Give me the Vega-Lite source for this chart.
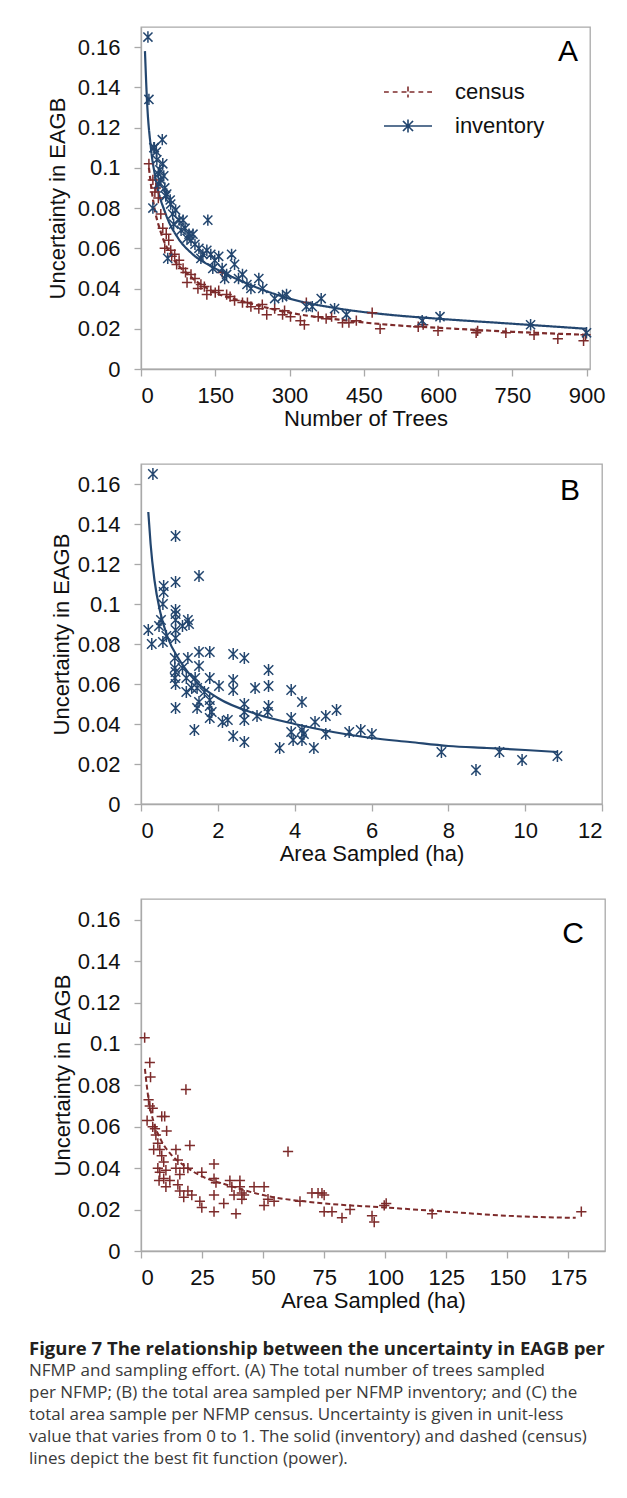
{
  "$schema": "https://vega.github.io/schema/vega-lite/v6.json",
  "background": "white",
  "padding": {"left": 29, "top": 26, "right": 10, "bottom": 10},
  "spacing": 33,
  "config": {
    "font": "Liberation Sans",
    "view": {"stroke": "#a9a9a9", "strokeWidth": 1.3},
    "axis": {"grid": false, "domainColor": "#a9a9a9", "domainWidth": 1.3, "tickColor": "#a9a9a9", "tickWidth": 1.3, "tickSize": 7, "labelFont": "Liberation Sans", "labelFontSize": 22, "labelColor": "#111111", "titleFont": "Liberation Sans", "titleFontSize": 22, "titleFontWeight": "normal", "titleColor": "#111111"},
    "axisX": {"labelPadding": 9, "titlePadding": 2},
    "axisY": {"labelPadding": 14, "titlePadding": 8},
    "legend": {"padding": 0}
  },
  "title": {
    "text": "Figure 7 The relationship between the uncertainty in EAGB per",
    "subtitle": ["NFMP and sampling effort. (A) The total number of trees sampled", "per NFMP; (B) the total area sampled per NFMP inventory; and (C) the", "total area sample per NFMP census. Uncertainty is given in unit-less", "value that varies from 0 to 1. The solid (inventory) and dashed (census)", "lines depict the best fit function (power)."],
    "orient": "bottom", "anchor": "start", "frame": "group", "offset": 28, "dx": -112,
    "font": "Open Sans", "fontSize": 18.5, "fontWeight": "bold", "color": "#231f20",
    "subtitleFont": "Open Sans", "subtitleFontSize": 17, "subtitleFontWeight": "normal", "subtitleColor": "#3a3a3a", "subtitleLineHeight": 22, "subtitlePadding": 4.5
  },
  "datasets": {
    "A_pts": [
      {"s": "census", "x": 16, "y": 0.102}, {"s": "census", "x": 24, "y": 0.094}, {"s": "census", "x": 30, "y": 0.090}, {"s": "census", "x": 35, "y": 0.085}, {"s": "census", "x": 40, "y": 0.077}, {"s": "census", "x": 44, "y": 0.070}, {"s": "census", "x": 51, "y": 0.067}, {"s": "census", "x": 56, "y": 0.064}, {"s": "census", "x": 60, "y": 0.059}, {"s": "census", "x": 68, "y": 0.057}, {"s": "census", "x": 77, "y": 0.054}, {"s": "census", "x": 85, "y": 0.050}, {"s": "census", "x": 93, "y": 0.043}, {"s": "census", "x": 101, "y": 0.047}, {"s": "census", "x": 109, "y": 0.045}, {"s": "census", "x": 121, "y": 0.042}, {"s": "census", "x": 133, "y": 0.037}, {"s": "census", "x": 141, "y": 0.039}, {"s": "census", "x": 157, "y": 0.039}, {"s": "census", "x": 164, "y": 0.048}, {"s": "census", "x": 173, "y": 0.037}, {"s": "census", "x": 189, "y": 0.034}, {"s": "census", "x": 205, "y": 0.033}, {"s": "census", "x": 222, "y": 0.031}, {"s": "census", "x": 238, "y": 0.030}, {"s": "census", "x": 254, "y": 0.027}, {"s": "census", "x": 270, "y": 0.030}, {"s": "census", "x": 286, "y": 0.027}, {"s": "census", "x": 302, "y": 0.026}, {"s": "census", "x": 322, "y": 0.024}, {"s": "census", "x": 330, "y": 0.022}, {"s": "census", "x": 334, "y": 0.033}, {"s": "census", "x": 358, "y": 0.026}, {"s": "census", "x": 374, "y": 0.025}, {"s": "census", "x": 385, "y": 0.026}, {"s": "census", "x": 407, "y": 0.023}, {"s": "census", "x": 420, "y": 0.023}, {"s": "census", "x": 435, "y": 0.024}, {"s": "census", "x": 467, "y": 0.028}, {"s": "census", "x": 483, "y": 0.020}, {"s": "census", "x": 560, "y": 0.021}, {"s": "census", "x": 570, "y": 0.022}, {"s": "census", "x": 600, "y": 0.019}, {"s": "census", "x": 677, "y": 0.018}, {"s": "census", "x": 680, "y": 0.019}, {"s": "census", "x": 737, "y": 0.018}, {"s": "census", "x": 794, "y": 0.017}, {"s": "census", "x": 842, "y": 0.015}, {"s": "census", "x": 894, "y": 0.014}, {"s": "census", "x": 898, "y": 0.017},
      {"s": "census", "x": 28, "y": 0.088}, {"s": "census", "x": 48, "y": 0.060}, {"s": "census", "x": 62, "y": 0.056}, {"s": "census", "x": 72, "y": 0.052}, {"s": "census", "x": 90, "y": 0.048}, {"s": "census", "x": 115, "y": 0.040}, {"s": "census", "x": 128, "y": 0.041}, {"s": "census", "x": 150, "y": 0.038}, {"s": "census", "x": 180, "y": 0.036}, {"s": "census", "x": 215, "y": 0.033}, {"s": "census", "x": 245, "y": 0.032}, {"s": "census", "x": 290, "y": 0.029},
      {"s": "inventory", "x": 14, "y": 0.165}, {"s": "inventory", "x": 16, "y": 0.134}, {"s": "inventory", "x": 27, "y": 0.110}, {"s": "inventory", "x": 31, "y": 0.108}, {"s": "inventory", "x": 43, "y": 0.114}, {"s": "inventory", "x": 44, "y": 0.102}, {"s": "inventory", "x": 24, "y": 0.080}, {"s": "inventory", "x": 35, "y": 0.097}, {"s": "inventory", "x": 40, "y": 0.094}, {"s": "inventory", "x": 48, "y": 0.090}, {"s": "inventory", "x": 52, "y": 0.087}, {"s": "inventory", "x": 60, "y": 0.082}, {"s": "inventory", "x": 54, "y": 0.055}, {"s": "inventory", "x": 64, "y": 0.077}, {"s": "inventory", "x": 77, "y": 0.074}, {"s": "inventory", "x": 85, "y": 0.074}, {"s": "inventory", "x": 89, "y": 0.070}, {"s": "inventory", "x": 97, "y": 0.067}, {"s": "inventory", "x": 101, "y": 0.064}, {"s": "inventory", "x": 109, "y": 0.062}, {"s": "inventory", "x": 117, "y": 0.060}, {"s": "inventory", "x": 125, "y": 0.057}, {"s": "inventory", "x": 135, "y": 0.074}, {"s": "inventory", "x": 133, "y": 0.059}, {"s": "inventory", "x": 141, "y": 0.057}, {"s": "inventory", "x": 149, "y": 0.054}, {"s": "inventory", "x": 157, "y": 0.056}, {"s": "inventory", "x": 164, "y": 0.050}, {"s": "inventory", "x": 173, "y": 0.047}, {"s": "inventory", "x": 183, "y": 0.057}, {"s": "inventory", "x": 189, "y": 0.052}, {"s": "inventory", "x": 205, "y": 0.047}, {"s": "inventory", "x": 214, "y": 0.042}, {"s": "inventory", "x": 238, "y": 0.045}, {"s": "inventory", "x": 246, "y": 0.040}, {"s": "inventory", "x": 286, "y": 0.036}, {"s": "inventory", "x": 294, "y": 0.037}, {"s": "inventory", "x": 334, "y": 0.031}, {"s": "inventory", "x": 346, "y": 0.031}, {"s": "inventory", "x": 364, "y": 0.035}, {"s": "inventory", "x": 391, "y": 0.030}, {"s": "inventory", "x": 415, "y": 0.027}, {"s": "inventory", "x": 568, "y": 0.024}, {"s": "inventory", "x": 604, "y": 0.026}, {"s": "inventory", "x": 787, "y": 0.022}, {"s": "inventory", "x": 900, "y": 0.018},
      {"s": "inventory", "x": 32, "y": 0.104}, {"s": "inventory", "x": 38, "y": 0.099}, {"s": "inventory", "x": 46, "y": 0.096}, {"s": "inventory", "x": 59, "y": 0.084}, {"s": "inventory", "x": 70, "y": 0.079}, {"s": "inventory", "x": 81, "y": 0.069}, {"s": "inventory", "x": 93, "y": 0.065}, {"s": "inventory", "x": 105, "y": 0.067}, {"s": "inventory", "x": 121, "y": 0.055}, {"s": "inventory", "x": 145, "y": 0.050}, {"s": "inventory", "x": 169, "y": 0.045}, {"s": "inventory", "x": 197, "y": 0.045}, {"s": "inventory", "x": 222, "y": 0.040}, {"s": "inventory", "x": 270, "y": 0.035}, {"s": "inventory", "x": 26, "y": 0.110}, {"s": "inventory", "x": 36, "y": 0.092}, {"s": "inventory", "x": 50, "y": 0.086}, {"s": "inventory", "x": 66, "y": 0.072}
    ],
    "A_fit": [
      {"s": "inventory", "x": 8, "y": 0.158}, {"s": "inventory", "x": 12, "y": 0.134}, {"s": "inventory", "x": 20, "y": 0.110}, {"s": "inventory", "x": 30, "y": 0.094}, {"s": "inventory", "x": 50, "y": 0.077}, {"s": "inventory", "x": 75, "y": 0.065}, {"s": "inventory", "x": 100, "y": 0.058}, {"s": "inventory", "x": 150, "y": 0.050}, {"s": "inventory", "x": 200, "y": 0.044}, {"s": "inventory", "x": 300, "y": 0.035}, {"s": "inventory", "x": 400, "y": 0.030}, {"s": "inventory", "x": 500, "y": 0.027}, {"s": "inventory", "x": 600, "y": 0.025}, {"s": "inventory", "x": 750, "y": 0.0225}, {"s": "inventory", "x": 900, "y": 0.020},
      {"s": "census", "x": 16, "y": 0.100}, {"s": "census", "x": 25, "y": 0.083}, {"s": "census", "x": 40, "y": 0.068}, {"s": "census", "x": 60, "y": 0.057}, {"s": "census", "x": 100, "y": 0.046}, {"s": "census", "x": 150, "y": 0.038}, {"s": "census", "x": 200, "y": 0.034}, {"s": "census", "x": 300, "y": 0.028}, {"s": "census", "x": 400, "y": 0.0245}, {"s": "census", "x": 500, "y": 0.022}, {"s": "census", "x": 600, "y": 0.0205}, {"s": "census", "x": 750, "y": 0.0185}, {"s": "census", "x": 900, "y": 0.017}
    ],
    "B_pts": [
      {"x": 0.31, "y": 0.165}, {"x": 0.19, "y": 0.087}, {"x": 0.28, "y": 0.080}, {"x": 0.59, "y": 0.109}, {"x": 0.59, "y": 0.106}, {"x": 0.57, "y": 0.100}, {"x": 0.52, "y": 0.092}, {"x": 0.47, "y": 0.089}, {"x": 0.57, "y": 0.081}, {"x": 0.66, "y": 0.084}, {"x": 0.90, "y": 0.134}, {"x": 0.90, "y": 0.111}, {"x": 0.90, "y": 0.097}, {"x": 0.90, "y": 0.095}, {"x": 0.90, "y": 0.092}, {"x": 0.90, "y": 0.087}, {"x": 0.90, "y": 0.083}, {"x": 0.88, "y": 0.073}, {"x": 0.88, "y": 0.068}, {"x": 0.90, "y": 0.066}, {"x": 0.88, "y": 0.063}, {"x": 0.90, "y": 0.060}, {"x": 0.90, "y": 0.048}, {"x": 1.08, "y": 0.089}, {"x": 1.22, "y": 0.092}, {"x": 1.25, "y": 0.090}, {"x": 1.22, "y": 0.073}, {"x": 1.08, "y": 0.068}, {"x": 1.18, "y": 0.063}, {"x": 1.18, "y": 0.056}, {"x": 1.32, "y": 0.058}, {"x": 1.51, "y": 0.114}, {"x": 1.51, "y": 0.076}, {"x": 1.51, "y": 0.069}, {"x": 1.41, "y": 0.063}, {"x": 1.46, "y": 0.058}, {"x": 1.51, "y": 0.051}, {"x": 1.46, "y": 0.048}, {"x": 1.39, "y": 0.037}, {"x": 1.65, "y": 0.056}, {"x": 1.79, "y": 0.076}, {"x": 1.79, "y": 0.063}, {"x": 1.79, "y": 0.052}, {"x": 1.79, "y": 0.049}, {"x": 1.84, "y": 0.046}, {"x": 1.79, "y": 0.043}, {"x": 2.03, "y": 0.059}, {"x": 2.12, "y": 0.041}, {"x": 2.26, "y": 0.042}, {"x": 2.40, "y": 0.075}, {"x": 2.40, "y": 0.062}, {"x": 2.40, "y": 0.057}, {"x": 2.40, "y": 0.034}, {"x": 2.69, "y": 0.073}, {"x": 2.69, "y": 0.050}, {"x": 2.69, "y": 0.046}, {"x": 2.69, "y": 0.042}, {"x": 2.69, "y": 0.031}, {"x": 2.97, "y": 0.058}, {"x": 3.02, "y": 0.044}, {"x": 3.32, "y": 0.067}, {"x": 3.32, "y": 0.059}, {"x": 3.32, "y": 0.049}, {"x": 3.30, "y": 0.046}, {"x": 3.61, "y": 0.028}, {"x": 3.91, "y": 0.057}, {"x": 3.91, "y": 0.043}, {"x": 3.91, "y": 0.036}, {"x": 3.96, "y": 0.032}, {"x": 4.19, "y": 0.051}, {"x": 4.19, "y": 0.037}, {"x": 4.24, "y": 0.035}, {"x": 4.19, "y": 0.032}, {"x": 4.50, "y": 0.028}, {"x": 4.53, "y": 0.041}, {"x": 4.81, "y": 0.044}, {"x": 4.81, "y": 0.035}, {"x": 5.09, "y": 0.047}, {"x": 5.42, "y": 0.036}, {"x": 5.72, "y": 0.037}, {"x": 6.01, "y": 0.035}, {"x": 7.82, "y": 0.026}, {"x": 8.72, "y": 0.017}, {"x": 9.33, "y": 0.026}, {"x": 9.92, "y": 0.022}, {"x": 10.84, "y": 0.024}
    ],
    "B_fit": [
      {"x": 0.19, "y": 0.146}, {"x": 0.25, "y": 0.130}, {"x": 0.35, "y": 0.112}, {"x": 0.5, "y": 0.096}, {"x": 0.7, "y": 0.083}, {"x": 1, "y": 0.072}, {"x": 1.5, "y": 0.060}, {"x": 2, "y": 0.053}, {"x": 3, "y": 0.045}, {"x": 4, "y": 0.040}, {"x": 5, "y": 0.036}, {"x": 6, "y": 0.033}, {"x": 7, "y": 0.031}, {"x": 8, "y": 0.029}, {"x": 9, "y": 0.028}, {"x": 10, "y": 0.027}, {"x": 10.84, "y": 0.026}
    ],
    "C_pts": [
      {"x": 1.5, "y": 0.103}, {"x": 3.6, "y": 0.091}, {"x": 3.9, "y": 0.084}, {"x": 3.1, "y": 0.073}, {"x": 3.6, "y": 0.070}, {"x": 4.8, "y": 0.069}, {"x": 2.5, "y": 0.063}, {"x": 9.7, "y": 0.065}, {"x": 8.5, "y": 0.065}, {"x": 4.8, "y": 0.060}, {"x": 5.7, "y": 0.059}, {"x": 10.5, "y": 0.058}, {"x": 6.1, "y": 0.056}, {"x": 6.9, "y": 0.052}, {"x": 5.2, "y": 0.049}, {"x": 7.7, "y": 0.049}, {"x": 18.4, "y": 0.078}, {"x": 20.0, "y": 0.051}, {"x": 60.2, "y": 0.048}, {"x": 8.5, "y": 0.046}, {"x": 9.3, "y": 0.043}, {"x": 14.3, "y": 0.049}, {"x": 15.1, "y": 0.044}, {"x": 6.9, "y": 0.040}, {"x": 7.7, "y": 0.038}, {"x": 7.4, "y": 0.034}, {"x": 10.2, "y": 0.031}, {"x": 14.3, "y": 0.040}, {"x": 15.9, "y": 0.037}, {"x": 17.5, "y": 0.040}, {"x": 19.2, "y": 0.040}, {"x": 15.1, "y": 0.032}, {"x": 15.9, "y": 0.029}, {"x": 17.5, "y": 0.026}, {"x": 19.2, "y": 0.029}, {"x": 20.8, "y": 0.027}, {"x": 24.9, "y": 0.038}, {"x": 24.1, "y": 0.024}, {"x": 24.9, "y": 0.021}, {"x": 29.9, "y": 0.042}, {"x": 29.9, "y": 0.035}, {"x": 30.7, "y": 0.033}, {"x": 29.9, "y": 0.027}, {"x": 29.9, "y": 0.019}, {"x": 33.9, "y": 0.023}, {"x": 36.4, "y": 0.034}, {"x": 37.2, "y": 0.031}, {"x": 38.1, "y": 0.027}, {"x": 38.9, "y": 0.018}, {"x": 40.5, "y": 0.034}, {"x": 40.5, "y": 0.031}, {"x": 41.3, "y": 0.028}, {"x": 41.3, "y": 0.025}, {"x": 42.2, "y": 0.027}, {"x": 46.3, "y": 0.031}, {"x": 50.4, "y": 0.031}, {"x": 50.4, "y": 0.022}, {"x": 52.0, "y": 0.025}, {"x": 54.5, "y": 0.024}, {"x": 65.1, "y": 0.024}, {"x": 70.0, "y": 0.028}, {"x": 72.5, "y": 0.028}, {"x": 74.1, "y": 0.028}, {"x": 75.0, "y": 0.027}, {"x": 75.0, "y": 0.019}, {"x": 78.2, "y": 0.019}, {"x": 82.3, "y": 0.016}, {"x": 85.6, "y": 0.020}, {"x": 94.6, "y": 0.017}, {"x": 95.5, "y": 0.014}, {"x": 99.6, "y": 0.022}, {"x": 100.4, "y": 0.023}, {"x": 119.2, "y": 0.018}, {"x": 180.3, "y": 0.019}, {"x": 9.3, "y": 0.035}, {"x": 11.8, "y": 0.034}, {"x": 10.2, "y": 0.039}
    ],
    "C_fit": [
      {"x": 1.6, "y": 0.088}, {"x": 3, "y": 0.074}, {"x": 5, "y": 0.063}, {"x": 8, "y": 0.054}, {"x": 12, "y": 0.047}, {"x": 18, "y": 0.041}, {"x": 25, "y": 0.036}, {"x": 35, "y": 0.032}, {"x": 50, "y": 0.027}, {"x": 75, "y": 0.023}, {"x": 100, "y": 0.021}, {"x": 125, "y": 0.019}, {"x": 150, "y": 0.017}, {"x": 178, "y": 0.016}
    ]
  },
  "resolve": {"scale": {"color": "independent", "strokeDash": "independent"}, "legend": {"color": "independent", "strokeDash": "independent"}},
  "vconcat": [
    {
      "width": 449, "height": 342,
      "layer": [
        {
          "data": {"name": "A_fit"},
          "mark": {"type": "line", "strokeWidth": 2.2, "interpolate": "monotone"},
          "encoding": {
            "x": {"field": "x", "type": "quantitative", "scale": {"domain": [0, 907], "nice": false, "zero": true}, "axis": {"values": [0, 150, 300, 450, 600, 750, 900], "title": "Number of Trees"}},
            "y": {"field": "y", "type": "quantitative", "scale": {"domain": [0, 0.17], "nice": false}, "axis": {"values": [0, 0.02, 0.04, 0.06, 0.08, 0.1, 0.12, 0.14, 0.16], "format": ".2~f", "title": "Uncertainty in EAGB", "titlePadding": 8}},
            "color": {"field": "s", "type": "nominal", "scale": {"domain": ["census", "inventory"], "range": ["#7d2b2b", "#23466f"]},
              "legend": {"orient": "none", "legendX": 254, "legendY": 52, "title": null, "symbolSize": 576, "symbolStrokeWidth": 1.6, "labelFont": "Liberation Sans", "labelFontSize": 22, "labelColor": "#111111", "labelOffset": 34, "rowPadding": 10,
                "encode": {"symbols": {"update": {"shape": {"signal": "datum.value === 'census' ? 'M-2,0H-1.6M-1.27,0H-0.87M-0.54,0H0.54M0.87,0H1.27M1.6,0H2M0,-0.45V0.45' : 'M-2,0H2M-0.42,-0.42L0.42,0.42M-0.42,0.42L0.42,-0.42M0,-0.55V0.55'"}, "fill": {"value": "transparent"}, "strokeDash": {"value": [1, 0]}}}}}},
            "strokeDash": {"field": "s", "type": "nominal", "scale": {"domain": ["census", "inventory"], "range": [[5, 3], [1, 0]]}, "legend": null}
          }
        },
        {
          "data": {"name": "A_pts"},
          "transform": [{"filter": "datum.s === 'census'"}],
          "mark": {"type": "point", "filled": false, "strokeWidth": 1.5, "size": 130, "opacity": 1, "color": "#7d2b2b", "shape": "M-0.9,0H0.9M0,-0.9V0.9"},
          "encoding": {
            "x": {"field": "x", "type": "quantitative"},
            "y": {"field": "y", "type": "quantitative"}
          }
        },
        {
          "data": {"name": "A_pts"},
          "transform": [{"filter": "datum.s === 'inventory'"}],
          "mark": {"type": "point", "filled": false, "strokeWidth": 1.5, "size": 130, "opacity": 1, "color": "#23466f", "shape": "M-0.8,-0.8L0.8,0.8M-0.8,0.8L0.8,-0.8M0,-1V1"},
          "encoding": {
            "x": {"field": "x", "type": "quantitative"},
            "y": {"field": "y", "type": "quantitative"}
          }
        },
        {
          "data": {"values": [{}]},
          "mark": {"type": "text", "align": "right", "baseline": "middle", "font": "Liberation Sans", "fontSize": 30, "color": "#000000"},
          "encoding": {"x": {"datum": 883}, "y": {"datum": 0.1576}, "text": {"value": "A"}}
        }
      ]
    },
    {
      "width": 461, "height": 340,
      "layer": [
        {
          "data": {"name": "B_fit"},
          "mark": {"type": "line", "strokeWidth": 2.2, "interpolate": "monotone", "color": "#23466f"},
          "encoding": {
            "x": {"field": "x", "type": "quantitative", "scale": {"domain": [0, 12], "nice": false}, "axis": {"values": [0, 2, 4, 6, 8, 10, 12], "title": "Area Sampled (ha)"}},
            "y": {"field": "y", "type": "quantitative", "scale": {"domain": [0, 0.17], "nice": false}, "axis": {"values": [0, 0.02, 0.04, 0.06, 0.08, 0.1, 0.12, 0.14, 0.16], "format": ".2~f", "title": "Uncertainty in EAGB", "titlePadding": 4}}
          }
        },
        {
          "data": {"name": "B_pts"},
          "mark": {"type": "point", "filled": false, "strokeWidth": 1.5, "size": 140, "opacity": 1, "color": "#23466f", "shape": "M-0.8,-0.8L0.8,0.8M-0.8,0.8L0.8,-0.8M0,-1V1"},
          "encoding": {
            "x": {"field": "x", "type": "quantitative"},
            "y": {"field": "y", "type": "quantitative"}
          }
        },
        {
          "data": {"values": [{}]},
          "mark": {"type": "text", "align": "right", "baseline": "middle", "font": "Liberation Sans", "fontSize": 30, "color": "#000000"},
          "encoding": {"x": {"datum": 11.43}, "y": {"datum": 0.1565}, "text": {"value": "B"}}
        }
      ]
    },
    {
      "width": 464, "height": 352,
      "layer": [
        {
          "data": {"name": "C_fit"},
          "mark": {"type": "line", "strokeWidth": 2, "interpolate": "monotone", "color": "#7d2b2b", "strokeDash": [5, 3]},
          "encoding": {
            "x": {"field": "x", "type": "quantitative", "scale": {"domain": [0, 190], "nice": false}, "axis": {"values": [0, 25, 50, 75, 100, 125, 150, 175], "title": "Area Sampled (ha)"}},
            "y": {"field": "y", "type": "quantitative", "scale": {"domain": [0, 0.17], "nice": false}, "axis": {"values": [0, 0.02, 0.04, 0.06, 0.08, 0.1, 0.12, 0.14, 0.16], "format": ".2~f", "title": "Uncertainty in EAGB", "titlePadding": 3}}
          }
        },
        {
          "data": {"name": "C_pts"},
          "mark": {"type": "point", "filled": false, "strokeWidth": 1.5, "size": 130, "opacity": 1, "color": "#7d2b2b", "shape": "M-0.9,0H0.9M0,-0.9V0.9"},
          "encoding": {
            "x": {"field": "x", "type": "quantitative"},
            "y": {"field": "y", "type": "quantitative"}
          }
        },
        {
          "data": {"values": [{}]},
          "mark": {"type": "text", "align": "right", "baseline": "middle", "font": "Liberation Sans", "fontSize": 30, "color": "#000000"},
          "encoding": {"x": {"datum": 181.4}, "y": {"datum": 0.153}, "text": {"value": "C"}}
        }
      ]
    }
  ]
}
